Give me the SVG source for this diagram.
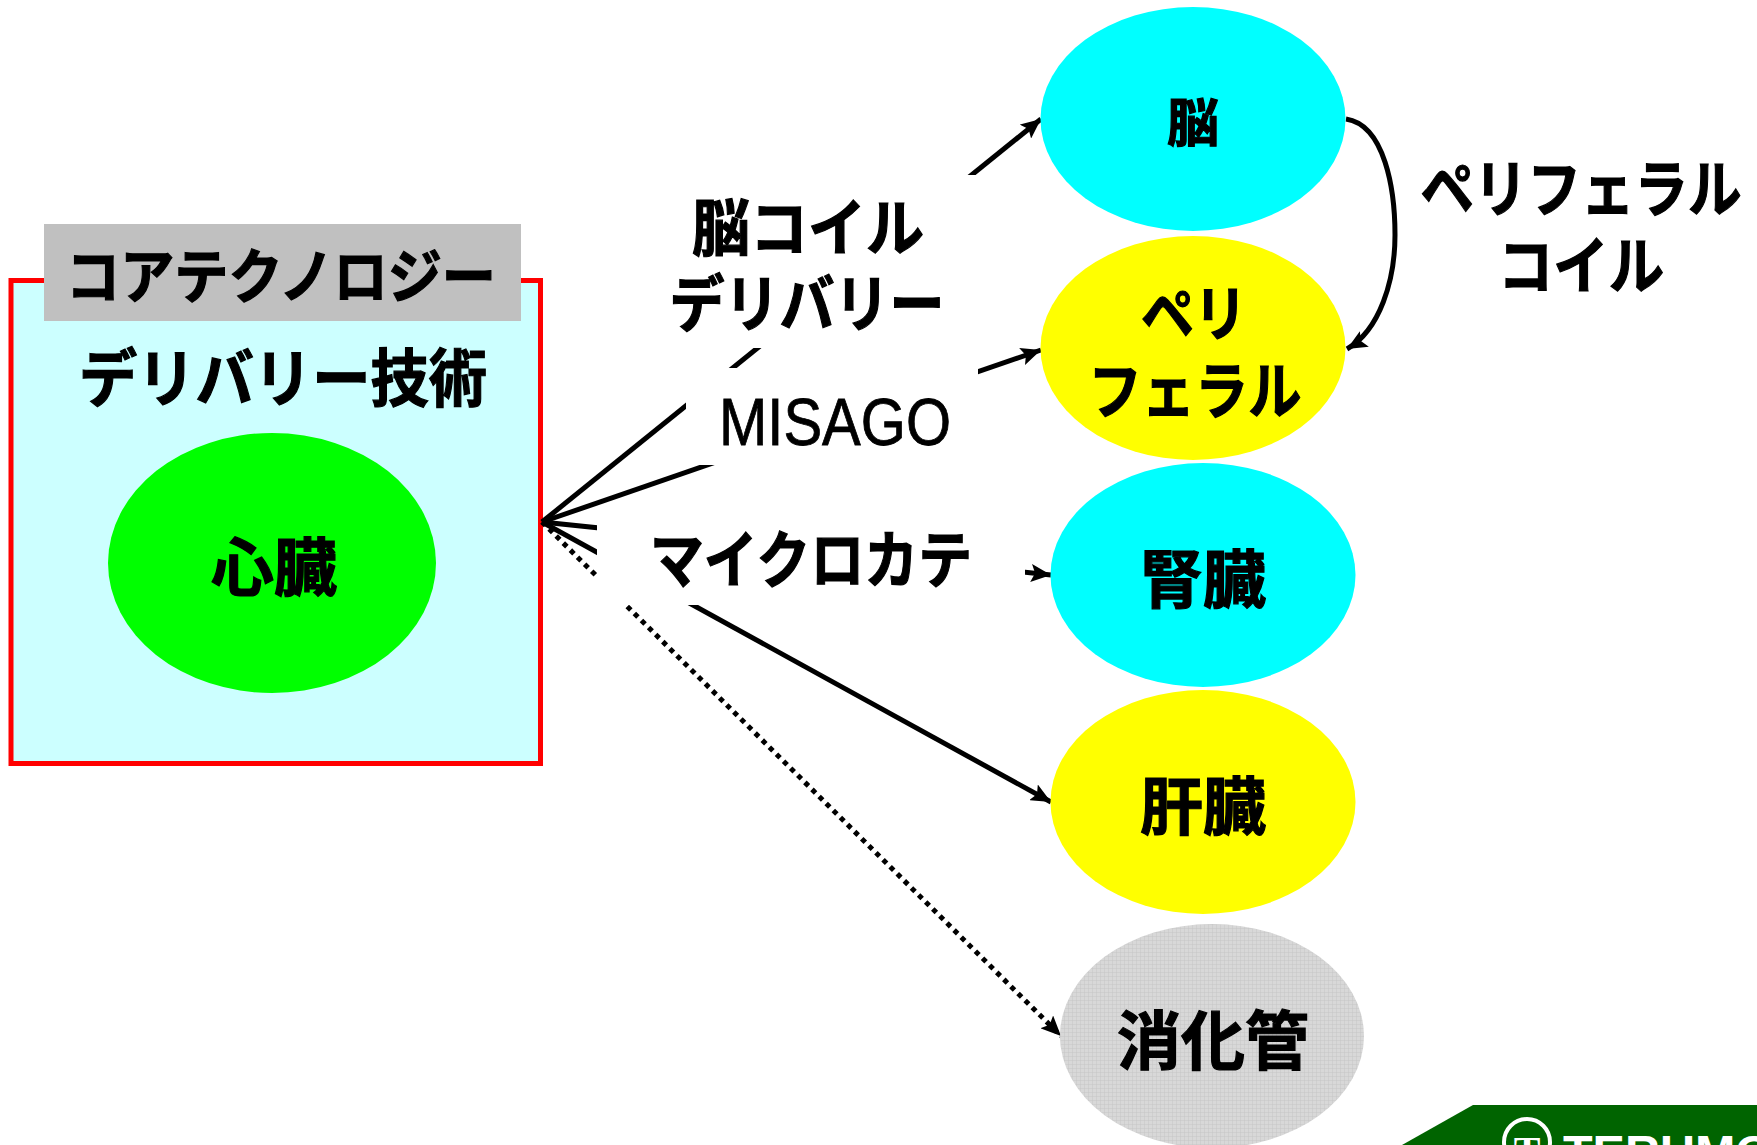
<svg xmlns="http://www.w3.org/2000/svg" width="1757" height="1145" viewBox="0 0 1757 1145">
<style>
text{font-family:"Noto Sans CJK JP","Liberation Sans",sans-serif;font-weight:700;fill:#000;stroke:#000;stroke-width:1.200;text-anchor:middle}
.l{stroke:#000;stroke-width:5;fill:none}
.latin{font-family:"Liberation Sans",sans-serif;font-weight:400;stroke-width:.8}
</style>
<defs>
<marker id="a" markerUnits="userSpaceOnUse" markerWidth="22" markerHeight="18" refX="20" refY="9" orient="auto"><path d="M0,0L20,9L0,18L4,9z" fill="#000"/></marker>
<pattern id="g" width="4" height="4" patternUnits="userSpaceOnUse"><rect width="4" height="4" fill="#d8d8d8"/><path d="M0,0H4M0,0V4" stroke="#c6c6c6" stroke-width="1"/></pattern>
</defs>
<rect width="1757" height="1145" fill="#fff"/>
<g id="core-box">
<rect x="11" y="280.500" width="529.500" height="483" fill="#ccffff" stroke="#f00" stroke-width="5"/>
<rect x="44" y="224" width="477" height="97" fill="#c0c0c0"/>
<text x="281" y="298" font-size="59" textLength="430" lengthAdjust="spacingAndGlyphs">コアテクノロジー</text>
<text x="283" y="401" font-size="63" textLength="408" lengthAdjust="spacingAndGlyphs">デリバリー技術</text>
</g>
<g id="heart"><ellipse cx="272" cy="563" rx="164" ry="130" fill="#0f0"/><text x="274" y="590" font-size="63">心臓</text></g>
<g id="connectors">
<path class="l" d="M542,522L1041,119" marker-end="url(#a)"/>
<path class="l" d="M542,522L1041,350" marker-end="url(#a)"/>
<path class="l" d="M542,522L1051,575" marker-end="url(#a)"/>
<path class="l" d="M542,522L1051,802" marker-end="url(#a)"/>
<path class="l" d="M542,522L1061,1036" stroke-width="6" stroke-dasharray="5 5" marker-end="url(#a)"/>
<path class="l" d="M1346,119C1385,125 1395,190 1395,235C1395,280 1380,330 1347,349" marker-end="url(#a)"/>
</g>
<g id="label-brain-coil">
<rect x="640" y="175" width="350" height="173" fill="#fff"/>
<text x="808" y="251" font-size="62" textLength="232" lengthAdjust="spacingAndGlyphs">脳コイル</text>
<text x="807" y="327" font-size="62" textLength="275" lengthAdjust="spacingAndGlyphs">デリバリー</text>
</g>
<g id="label-misago">
<rect x="686" y="368" width="292" height="97" fill="#fff"/>
<text class="latin" x="835" y="445" font-size="66" textLength="232" lengthAdjust="spacingAndGlyphs">MISAGO</text>
</g>
<g id="label-microcatheter">
<rect x="597" y="512" width="428" height="93" fill="#fff"/>
<rect x="715" y="465" width="310" height="47" fill="#fff"/>
<text x="811" y="583" font-size="62" textLength="322" lengthAdjust="spacingAndGlyphs">マイクロカテ</text>
</g>
<g id="node-brain"><ellipse cx="1193" cy="119" rx="152.500" ry="112" fill="#0ff"/><text x="1193" y="142" font-size="52">脳</text></g>
<g id="node-peripheral"><ellipse cx="1193" cy="348" rx="152.500" ry="112" fill="#ff0"/><text x="1194" y="336" font-size="60" textLength="106" lengthAdjust="spacingAndGlyphs">ペリ</text><text x="1195" y="414" font-size="62" textLength="213" lengthAdjust="spacingAndGlyphs">フェラル</text></g>
<g id="node-kidney"><ellipse cx="1203" cy="575" rx="152.500" ry="112" fill="#0ff"/><text x="1203" y="602" font-size="63">腎臓</text></g>
<g id="node-liver"><ellipse cx="1203" cy="802" rx="152.500" ry="112" fill="#ff0"/><text x="1203" y="829" font-size="63">肝臓</text></g>
<g id="node-gi"><ellipse cx="1212" cy="1036" rx="152" ry="112" fill="url(#g)"/><text x="1213" y="1064" font-size="64">消化管</text></g>
<g id="label-peripheral-coil">
<text x="1581" y="212" font-size="62" textLength="321" lengthAdjust="spacingAndGlyphs">ペリフェラル</text>
<text x="1581" y="289" font-size="62" textLength="166" lengthAdjust="spacingAndGlyphs">コイル</text>
</g>
<g id="logo">
<path d="M1473,1105H1757V1145H1402z" fill="#006400"/>
<circle cx="1527" cy="1142" r="23" fill="none" stroke="#fff" stroke-width="4"/>
<text x="1527" y="1164" font-size="40" style="font-family:'Liberation Serif',serif;fill:#fff;stroke:none">T</text>
<text x="1563" y="1168" font-size="46" textLength="210" lengthAdjust="spacingAndGlyphs" style="font-family:'Liberation Sans',sans-serif;fill:#fff;stroke:none;text-anchor:start">TERUMO</text>
</g>
</svg>
